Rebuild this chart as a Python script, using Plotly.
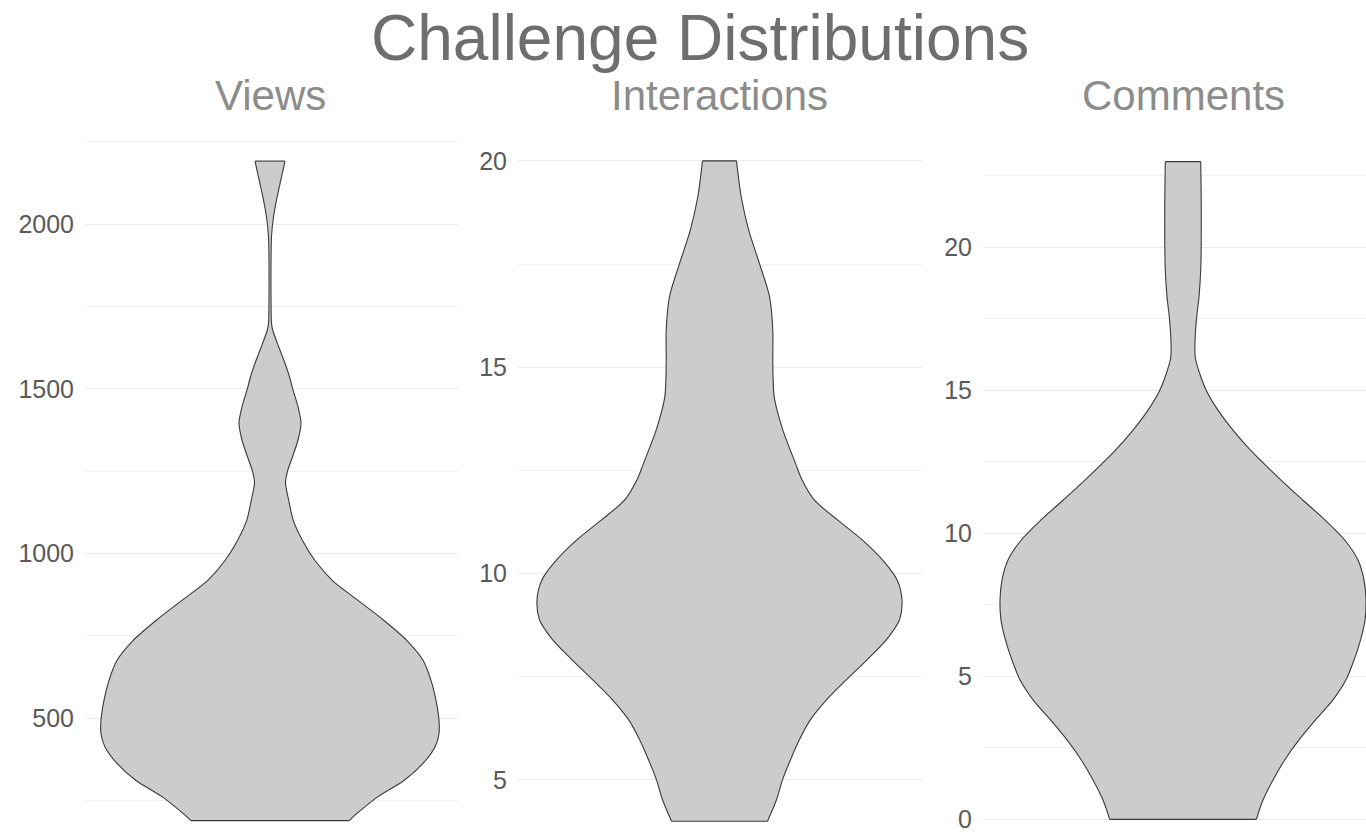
import plotly.graph_objects as go

# ---- data (value level -> violin half-width, arbitrary density units) ----
panel_titles = ["Views", "Interactions", "Comments"]
chart_title = "Challenge Distributions"

views_y = [189, 211, 262, 311, 363, 413, 453, 494, 554, 615, 676, 736, 797, 858, 918, 979,
           1040, 1101, 1162, 1215, 1250, 1294, 1345, 1396, 1446, 1497, 1537, 1578, 1628,
           1679, 1699, 1780, 1882, 1962, 2023, 2084, 2134, 2192]
views_w = [79, 87, 108, 134, 153, 165, 169, 169, 166, 161, 153, 137, 114, 88, 62.5, 45,
           32.5, 23.3, 18.7, 15.5, 17.5, 22.5, 28, 31, 28, 23, 19.5, 15, 8.7,
           2.7, 1.5, 1, 1, 1.5, 3.5, 7.2, 10.8, 15]

inter_y = [4.0, 4.52, 5.0, 5.49, 5.98, 6.46, 6.94, 7.43, 7.91, 8.4, 8.88, 9.36, 9.85, 10.33,
           10.81, 11.3, 11.78, 12.3, 12.67, 13.48, 14.28, 15.09, 15.9, 16.71, 17.51, 18.32,
           19.13, 20.0]
inter_w = [48, 57, 63, 71, 80, 91, 107, 127, 147.5, 167, 180, 182.5, 177.5, 163,
           143, 118, 95, 82, 76, 63.3, 54.7, 53.3, 53.3, 50, 40, 29.2,
           21.7, 17]

comm_y = [0, 0.68, 1.38, 2.08, 2.78, 3.48, 4.18, 4.88, 5.57, 6.27, 6.97, 7.67, 8.37, 9.07,
          9.77, 10.47, 11.16, 11.9, 12.91, 13.61, 14.31, 15.0, 15.59, 16.17, 16.87, 17.57,
          18.27, 19.2, 20.02, 21.77, 23.0]
comm_w = [73.3, 80, 90, 101.7, 116, 132.5, 150, 163, 171, 177.5, 182, 183, 181, 175,
          161.7, 142, 120, 97, 67.5, 50, 35, 23.3, 16.7, 12.2, 12.2, 13.7,
          16, 17.7, 18.2, 18.2, 17.7]

series = [(views_y, views_w), (inter_y, inter_w), (comm_y, comm_w)]

# ---- layout / style ----
W, H = 1366, 834
top_px = 127
x_domains_px = [(85, 458), (518, 922), (983, 1366)]
x_ranges = [(-185, 188), (-201.5, 202.5), (-200, 183)]
y_ranges = [(148.5, 2295.5), (3.69, 20.82), (-0.51, 24.21)]
major_dtick = [500, 5, 5]
minor_dtick = [250, 2.5, 2.5]

FONT = "Liberation Sans"
fill_col = "#cccccc"
line_col = "#3a3a3a"
grid_col = "#ebebeb"
minor_col = "#f1f1f1"

fig = go.Figure()
layout_axes = {}
annotations = []
for i, ((ys, ws), title) in enumerate(zip(series, panel_titles)):
    n = i + 1
    xa = "x" if n == 1 else f"x{n}"
    ya = "y" if n == 1 else f"y{n}"
    side_line = dict(color=line_col, width=1.1, shape="spline", smoothing=0.8)
    # left side of the violin
    fig.add_trace(go.Scatter(
        x=[-w for w in ws], y=list(ys), mode="lines", line=side_line,
        xaxis=xa, yaxis=ya, showlegend=False, hoverinfo="skip"))
    # right side, filled back to the left side
    fig.add_trace(go.Scatter(
        x=list(ws), y=list(ys), mode="lines", line=side_line,
        fill="tonextx", fillcolor=fill_col,
        xaxis=xa, yaxis=ya, showlegend=False, hoverinfo="skip"))
    # straight top and bottom edges
    fig.add_trace(go.Scatter(
        x=[-ws[-1], ws[-1], None, -ws[0], ws[0]],
        y=[ys[-1], ys[-1], None, ys[0], ys[0]],
        mode="lines", line=dict(color=line_col, width=1.1),
        xaxis=xa, yaxis=ya, showlegend=False, hoverinfo="skip"))
    x0, x1 = x_domains_px[i]
    xk = "xaxis" if n == 1 else f"xaxis{n}"
    yk = "yaxis" if n == 1 else f"yaxis{n}"
    layout_axes[xk] = dict(domain=[x0 / W, x1 / W], range=list(x_ranges[i]),
                           showgrid=False, zeroline=False, showticklabels=False,
                           anchor=ya, fixedrange=True)
    layout_axes[yk] = dict(domain=[0, 1], range=list(y_ranges[i]), anchor=xa,
                           tick0=0, dtick=major_dtick[i], showgrid=True,
                           gridcolor=grid_col, gridwidth=1.3, zeroline=False,
                           showline=False, ticks="", ticklabelstandoff=10,
                           tickfont=dict(family=FONT, size=25, color="#5a5a5a"),
                           minor=dict(dtick=minor_dtick[i], showgrid=True,
                                      gridcolor=minor_col, gridwidth=1.0),
                           fixedrange=True)
    cx = (x0 - x_ranges[i][0] * (x1 - x0) / (x_ranges[i][1] - x_ranges[i][0])) / W
    annotations.append(dict(text=title, x=cx, xref="paper", xanchor="center",
                            y=(H - 95) / (H - top_px), yref="paper", yanchor="middle",
                            showarrow=False,
                            font=dict(family=FONT, size=42, color="#8c8c8c")))

annotations.append(dict(text=chart_title, x=700 / W, xref="paper", xanchor="center",
                        y=(H - 38) / (H - top_px), yref="paper", yanchor="middle",
                        showarrow=False,
                        font=dict(family=FONT, size=64, color="#6e6e6e")))

fig.update_layout(
    width=W, height=H,
    margin=dict(l=0, r=0, t=top_px, b=0, pad=0),
    paper_bgcolor="white", plot_bgcolor="white",
    annotations=annotations,
    **layout_axes,
)

fig.write_html("out.html", config={"displayModeBar": False},
               post_script="document.body.style.margin='0px';document.body.style.overflow='hidden';")
